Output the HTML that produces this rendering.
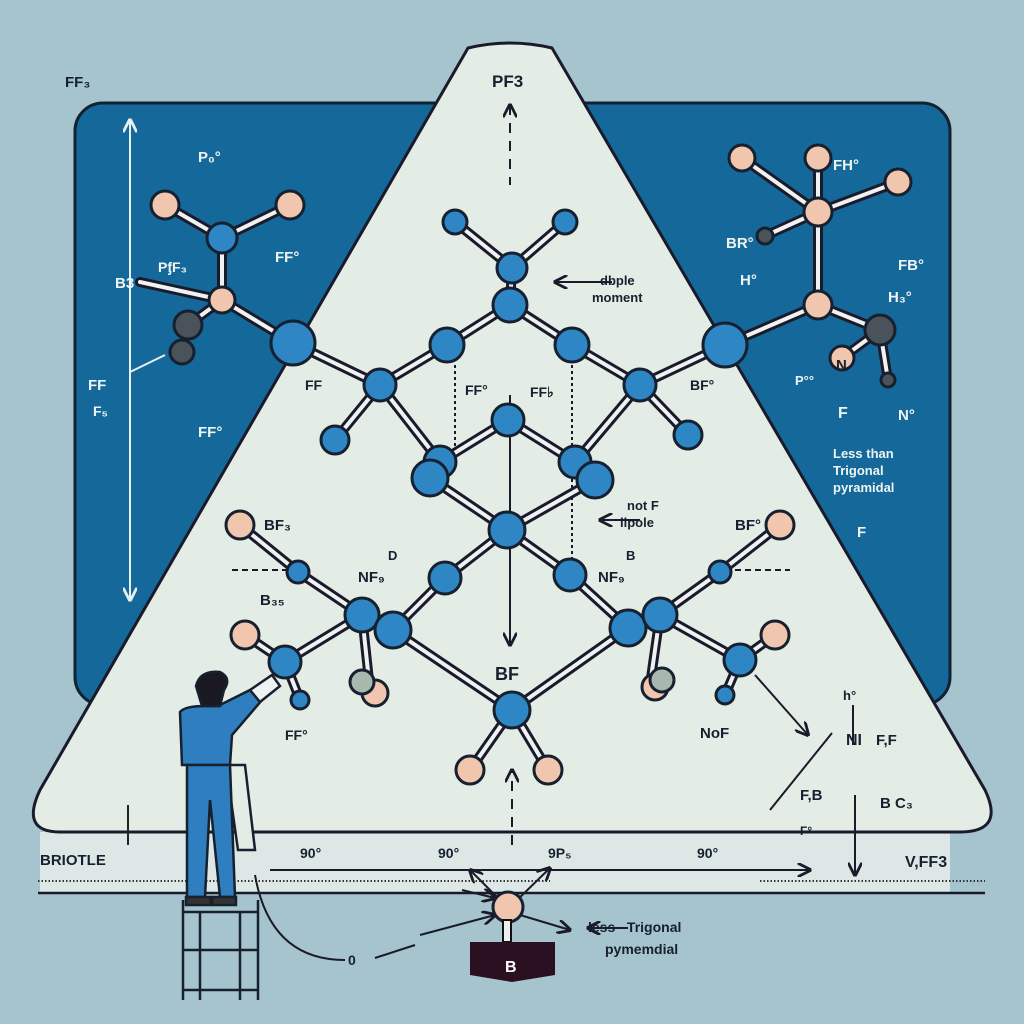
<!DOCTYPE html>
<html><head><meta charset="utf-8"><style>
html,body{margin:0;padding:0;width:1024px;height:1024px;overflow:hidden;background:#a6c4cd}
svg{display:block}
text{font-family:"Liberation Sans",sans-serif;font-weight:bold}
</style></head><body>
<svg width="1024" height="1024" viewBox="0 0 1024 1024" xmlns="http://www.w3.org/2000/svg">
<defs>
<marker id="ah" viewBox="0 0 10 10" refX="9" refY="5" markerWidth="7" markerHeight="7" orient="auto-start-reverse"><path d="M0,0 L10,5 L0,10" fill="none" stroke="#1a1a2a" stroke-width="2"/></marker>
<marker id="aw" viewBox="0 0 10 10" refX="9" refY="5" markerWidth="7" markerHeight="7" orient="auto-start-reverse"><path d="M0,0 L10,5 L0,10" fill="none" stroke="#e8f0f0" stroke-width="2"/></marker>
</defs>
<rect width="1024" height="1024" fill="#a6c4cd"/>
<rect x="75" y="103" width="875" height="602" rx="28" fill="#15689a" stroke="#123" stroke-width="3"/>
<rect x="40" y="832" width="910" height="61" fill="#dde8e6"/>
<line x1="38" y1="893" x2="985" y2="893" stroke="#1a1a2a" stroke-width="2.5"/>
<line x1="38" y1="881" x2="550" y2="881" stroke="#333" stroke-width="2" stroke-dasharray="1.5 2"/>
<line x1="760" y1="881" x2="985" y2="881" stroke="#333" stroke-width="2" stroke-dasharray="1.5 2"/>
<path d="M468,48 Q510,38 552,48 L985,790 Q1005,832 960,832 L60,832 Q20,832 40,790 Z" fill="#e4ece6" stroke="#1a1a2a" stroke-width="3"/>
<line x1="128" y1="805" x2="128" y2="845" stroke="#222" stroke-width="2"/>
<line x1="270" y1="870" x2="810" y2="870" stroke="#1a1a2a" stroke-width="2" marker-end="url(#ah)"/>
<g stroke="#1a1a2a" stroke-width="2" fill="none">
<line x1="510" y1="105" x2="510" y2="185" stroke-dasharray="10 8" marker-start="url(#ah)"/>
<line x1="510" y1="395" x2="510" y2="645" marker-end="url(#ah)"/>
<line x1="455" y1="365" x2="455" y2="450" stroke-dasharray="3 3"/>
<line x1="572" y1="365" x2="572" y2="560" stroke-dasharray="3 3"/>
<line x1="512" y1="845" x2="512" y2="770" stroke-dasharray="10 8" marker-end="url(#ah)"/>
<line x1="612" y1="282" x2="555" y2="282" marker-end="url(#ah)"/>
<line x1="640" y1="520" x2="600" y2="520" marker-end="url(#ah)"/>
<line x1="232" y1="570" x2="290" y2="570" stroke-dasharray="6 4"/>
<line x1="735" y1="570" x2="790" y2="570" stroke-dasharray="6 4"/>
<line x1="755" y1="675" x2="808" y2="735" marker-end="url(#ah)"/>
<line x1="770" y1="810" x2="832" y2="733"/>
<line x1="855" y1="795" x2="855" y2="875" marker-end="url(#ah)"/>
<line x1="853" y1="705" x2="853" y2="745"/>
<line x1="505" y1="905" x2="470" y2="870" marker-end="url(#ah)"/>
<line x1="512" y1="905" x2="550" y2="868" marker-end="url(#ah)"/>
<line x1="495" y1="898" x2="462" y2="890" marker-start="url(#ah)"/>
<line x1="495" y1="915" x2="420" y2="935" marker-start="url(#ah)"/>
<line x1="520" y1="915" x2="570" y2="930" marker-end="url(#ah)"/>
<line x1="628" y1="928" x2="588" y2="928" marker-end="url(#ah)"/>
<path d="M255,875 Q270,960 345,960" />
<line x1="375" y1="958" x2="415" y2="945"/>
</g>
<g stroke="#e8f0f0" stroke-width="2" fill="none">
<line x1="130" y1="600" x2="130" y2="120" marker-end="url(#aw)"/>
<line x1="130" y1="340" x2="130" y2="600" marker-end="url(#aw)"/>
<line x1="130" y1="372" x2="165" y2="355"/>
</g>
<g stroke-linecap="round">
<g stroke="#1a1a2a" stroke-width="10">
<path d="M455,222L512,268M565,222L512,268M512,268L510,305M510,305L447,345M510,305L572,345M447,345L380,385M572,345L640,385M380,385L293,343M640,385L725,345M380,385L335,440M640,385L688,435M380,385L440,462M640,385L575,462M508,420L440,462M508,420L575,462M430,478L507,530M595,480L507,530M507,530L445,578M507,530L570,575M445,578L393,630M570,575L628,628M393,630L512,710M628,628L512,710M362,615L298,572M298,572L240,525M660,615L720,572M720,572L780,525M362,615L285,662M660,615L740,660M285,662L245,635M740,660L775,635M512,710L470,770M512,710L548,770M362,615L370,690M660,615L650,685M285,662L300,700M740,660L725,695"/>
<path d="M165,205L222,238M290,205L222,238M222,238L222,300M222,300L140,282M222,300L293,343M222,300L188,325"/>
<path d="M742,158L818,212M818,158L818,212M898,182L818,212M818,212L765,236M818,212L818,305M818,305L725,345M818,305L880,330M880,330L842,358M880,330L888,380"/>
</g>
<g stroke="#eef2f2" stroke-width="4">
<path d="M455,222L512,268M565,222L512,268M512,268L510,305M510,305L447,345M510,305L572,345M447,345L380,385M572,345L640,385M380,385L293,343M640,385L725,345M380,385L335,440M640,385L688,435M380,385L440,462M640,385L575,462M508,420L440,462M508,420L575,462M430,478L507,530M595,480L507,530M507,530L445,578M507,530L570,575M445,578L393,630M570,575L628,628M393,630L512,710M628,628L512,710M362,615L298,572M298,572L240,525M660,615L720,572M720,572L780,525M362,615L285,662M660,615L740,660M285,662L245,635M740,660L775,635M512,710L470,770M512,710L548,770M362,615L370,690M660,615L650,685M285,662L300,700M740,660L725,695"/>
<path d="M165,205L222,238M290,205L222,238M222,238L222,300M222,300L140,282M222,300L293,343M222,300L188,325"/>
<path d="M742,158L818,212M818,158L818,212M898,182L818,212M818,212L765,236M818,212L818,305M818,305L725,345M818,305L880,330M880,330L842,358M880,330L888,380"/>
</g>
</g>
<g stroke="#16202e" stroke-width="3">
<g fill="#2f86c4">
<circle cx="455" cy="222" r="12"/><circle cx="565" cy="222" r="12"/><circle cx="512" cy="268" r="15"/><circle cx="510" cy="305" r="17"/>
<circle cx="447" cy="345" r="17"/><circle cx="572" cy="345" r="17"/><circle cx="380" cy="385" r="16"/><circle cx="640" cy="385" r="16"/>
<circle cx="293" cy="343" r="22"/><circle cx="725" cy="345" r="22"/><circle cx="335" cy="440" r="14"/><circle cx="688" cy="435" r="14"/>
<circle cx="508" cy="420" r="16"/><circle cx="440" cy="462" r="16"/><circle cx="575" cy="462" r="16"/><circle cx="430" cy="478" r="18"/><circle cx="595" cy="480" r="18"/>
<circle cx="507" cy="530" r="18"/><circle cx="445" cy="578" r="16"/><circle cx="570" cy="575" r="16"/><circle cx="298" cy="572" r="11"/><circle cx="720" cy="572" r="11"/>
<circle cx="362" cy="615" r="17"/><circle cx="393" cy="630" r="18"/><circle cx="628" cy="628" r="18"/><circle cx="660" cy="615" r="17"/>
<circle cx="285" cy="662" r="16"/><circle cx="740" cy="660" r="16"/><circle cx="512" cy="710" r="18"/><circle cx="300" cy="700" r="9"/><circle cx="725" cy="695" r="9"/>
<circle cx="222" cy="238" r="15"/>
</g>
<g fill="#f1c6ae">
<circle cx="470" cy="770" r="14"/><circle cx="548" cy="770" r="14"/><circle cx="240" cy="525" r="14"/><circle cx="780" cy="525" r="14"/>
<circle cx="245" cy="635" r="14"/><circle cx="775" cy="635" r="14"/><circle cx="375" cy="693" r="13"/><circle cx="655" cy="687" r="13"/>
<circle cx="165" cy="205" r="14"/><circle cx="290" cy="205" r="14"/><circle cx="222" cy="300" r="13"/>
<circle cx="742" cy="158" r="13"/><circle cx="818" cy="158" r="13"/><circle cx="898" cy="182" r="13"/><circle cx="818" cy="212" r="14"/><circle cx="818" cy="305" r="14"/><circle cx="842" cy="358" r="12"/>
<circle cx="508" cy="907" r="15"/>
</g>
<g fill="#a7b8ae"><circle cx="362" cy="682" r="12"/><circle cx="662" cy="680" r="12"/></g>
<g fill="#4a525a"><circle cx="188" cy="325" r="14"/><circle cx="182" cy="352" r="12"/><circle cx="880" cy="330" r="15"/><circle cx="765" cy="236" r="8"/><circle cx="888" cy="380" r="7"/></g>
</g>
<rect x="503" y="920" width="8" height="22" fill="#eee" stroke="#111" stroke-width="2"/>
<path d="M470,942 L555,942 L555,975 L512,982 L470,975 Z" fill="#2a1020"/>
<text x="505" y="972" font-size="16" fill="#fff">B</text>
<g stroke="#16202e" stroke-width="2.5">
<path d="M183,900 L183,1000 M258,900 L258,1000 M183,912 L258,912 M183,950 L258,950 M183,990 L258,990 M200,912 L200,1000 M240,912 L240,1000" fill="none"/>
<path d="M226,765 L245,765 L255,850 L238,850 Z" fill="#e4ece6"/>
<path d="M180,712 Q185,706 205,706 L218,706 L250,690 L262,700 L232,735 L230,765 L182,765 Z" fill="#2f7fc0"/>
<path d="M187,765 L230,765 L235,897 L220,897 L210,800 L205,897 L187,897 Z" fill="#2f7fc0"/>
<path d="M196,686 Q200,670 220,672 Q232,678 224,690 L220,706 L202,706 Z" fill="#1a1820"/>
<path d="M250,690 L272,675 L280,686 L260,702 Z" fill="#eef2f2"/>
<rect x="186" y="897" width="25" height="8" fill="#333"/><rect x="212" y="897" width="24" height="8" fill="#333"/>
</g>
<g fill="#16202e">
<text x="65" y="87" font-size="15">FF₃</text>
<text x="492" y="87" font-size="17">PF3</text>
<text x="600" y="285" font-size="13" font-weight="normal">dbple</text>
<text x="592" y="302" font-size="13" font-weight="normal">moment</text>
<text x="305" y="390" font-size="14">FF</text>
<text x="465" y="395" font-size="14">FF°</text>
<text x="530" y="397" font-size="14">FF♭</text>
<text x="690" y="390" font-size="14">BF°</text>
<text x="264" y="530" font-size="15">BF₃</text>
<text x="735" y="530" font-size="15">BF°</text>
<text x="627" y="510" font-size="13" font-weight="normal">not F</text>
<text x="620" y="527" font-size="13" font-weight="normal">llpole</text>
<text x="388" y="560" font-size="13">D</text>
<text x="358" y="582" font-size="15">NF₉</text>
<text x="626" y="560" font-size="13">B</text>
<text x="598" y="582" font-size="15">NF₉</text>
<text x="260" y="605" font-size="15">B₃₅</text>
<text x="495" y="680" font-size="18">BF</text>
<text x="285" y="740" font-size="14">FF°</text>
<text x="700" y="738" font-size="15">NoF</text>
<text x="843" y="700" font-size="13">h°</text>
<text x="846" y="745" font-size="16">NI</text>
<text x="876" y="745" font-size="15">F,F</text>
<text x="800" y="800" font-size="15">F,B</text>
<text x="880" y="808" font-size="15">B C₃</text>
<text x="800" y="835" font-size="12">F°</text>
<text x="40" y="865" font-size="15">BRIOTLE</text>
<text x="300" y="858" font-size="14">90°</text>
<text x="438" y="858" font-size="14">90°</text>
<text x="548" y="858" font-size="14">9P₅</text>
<text x="697" y="858" font-size="14">90°</text>
<text x="905" y="867" font-size="16">V,FF3</text>
<text x="348" y="965" font-size="14">0</text>
<text x="588" y="932" font-size="14" font-weight="normal">less –Trigonal</text>
<text x="605" y="954" font-size="14" font-weight="normal">pymemdial</text>
</g>
<g fill="#eef4f4">
<text x="198" y="162" font-size="15">P₀°</text>
<text x="275" y="262" font-size="15">FF°</text>
<text x="158" y="272" font-size="14">PᶂF₃</text>
<text x="115" y="288" font-size="15">B3</text>
<text x="88" y="390" font-size="15">FF</text>
<text x="93" y="416" font-size="14">F₅</text>
<text x="198" y="437" font-size="15">FF°</text>
<text x="833" y="170" font-size="15">FH°</text>
<text x="726" y="248" font-size="15">BR°</text>
<text x="740" y="285" font-size="15">H°</text>
<text x="898" y="270" font-size="15">FB°</text>
<text x="888" y="302" font-size="15">H₃°</text>
<text x="795" y="385" font-size="13">P°°</text>
<text x="836" y="370" font-size="15" fill="#16202e">N</text>
<text x="838" y="418" font-size="16">F</text>
<text x="898" y="420" font-size="15">N°</text>
<text x="833" y="458" font-size="13" font-weight="normal">Less than</text>
<text x="833" y="475" font-size="13" font-weight="normal">Trigonal</text>
<text x="833" y="492" font-size="13" font-weight="normal">pyramidal</text>
<text x="857" y="537" font-size="15">F</text>
</g>
</svg>
</body></html>
